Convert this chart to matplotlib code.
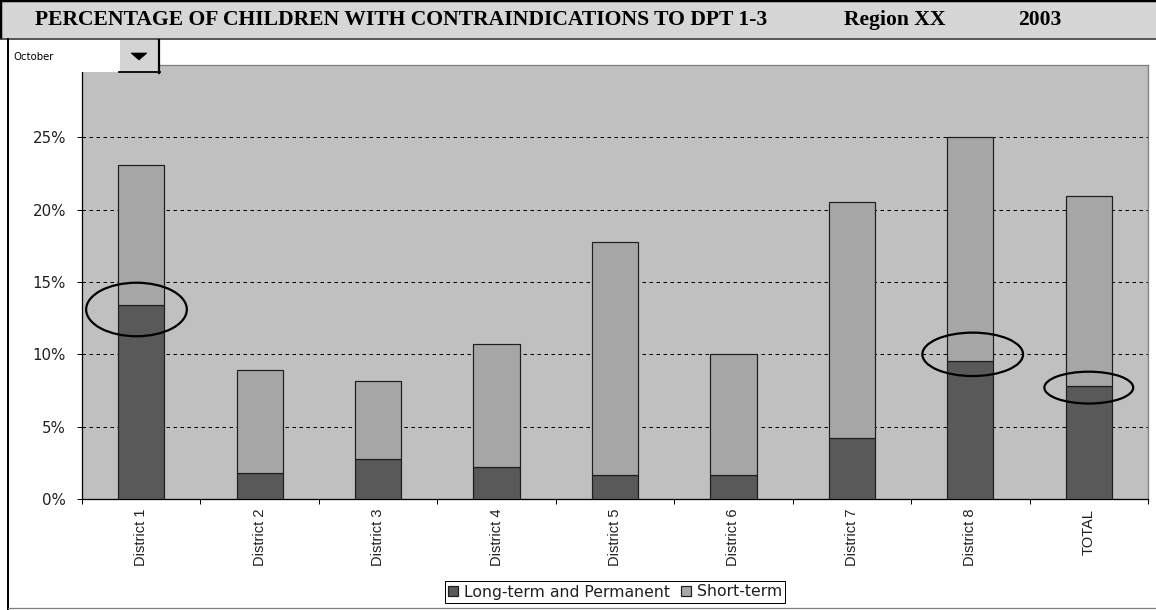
import matplotlib
matplotlib.use("Agg")
import matplotlib.pyplot as plt
from matplotlib.patches import Rectangle, Ellipse, Polygon
from matplotlib.lines import Line2D
from matplotlib.ticker import FixedLocator, PercentFormatter
import numpy as np

# ---- data (percent of children) ----
categories = ["District 1", "District 2", "District 3", "District 4", "District 5",
              "District 6", "District 7", "District 8", "TOTAL"]
long_term = [13.4, 1.8, 2.75, 2.2, 1.65, 1.65, 4.2, 9.55, 7.8]
short_term = [9.7, 7.1, 5.4, 8.5, 16.1, 8.35, 16.35, 15.45, 13.15]
series_names = ["Long-term and Permanent", "Short-term"]
y_ticks = [0, 5, 10, 15, 20, 25]
y_max = 30

# categories circled on the chart
highlighted = ["District 1", "District 8", "TOTAL"]

title_text = "PERCENTAGE OF CHILDREN WITH CONTRAINDICATIONS TO DPT 1-3"
region_text = "Region XX"
year_text = "2003"
month_text = "October"

# ---- styling ----
W, H = 1156, 610
DARK = "#595959"
LIGHT = "#a6a6a6"
PLOT_BG = "#c0c0c0"
EDGE = "#1e1e1e"
PX = 0.72  # one pixel in points at 100 dpi

plt.rcParams["font.family"] = ["DejaVu Sans"]

fig = plt.figure(figsize=(W / 100, H / 100), dpi=100)
fig.patch.set_facecolor("white")

# plot area in pixel bounds
left, right, top, bottom = 82, 1148, 65, 499
ax = fig.add_axes([left / W, (H - bottom) / H, (right - left) / W, (bottom - top) / H])
ax.set_facecolor(PLOT_BG)

x = np.arange(len(categories))
bar_w = 0.39
ax.bar(x, long_term, width=bar_w, color=DARK, edgecolor=EDGE, linewidth=1.2 * PX,
       label=series_names[0], zorder=3)
ax.bar(x, short_term, width=bar_w, bottom=long_term, color=LIGHT, edgecolor=EDGE,
       linewidth=1.2 * PX, label=series_names[1], zorder=3)

ax.set_xlim(-0.5, len(categories) - 0.5)
ax.set_ylim(0, y_max)

# y axis
ax.yaxis.set_major_locator(FixedLocator(y_ticks))
ax.yaxis.set_major_formatter(PercentFormatter(100, decimals=0))
ax.tick_params(axis="y", which="major", direction="out", length=5 * PX, width=1 * PX,
               pad=8, labelsize=10.8, labelcolor="#202020")
ax.yaxis.grid(True, linestyle=(0, (3.5, 3.5)), color="black", linewidth=1 * PX)
ax.set_axisbelow(True)

# x axis: labels at centres, tick marks between categories
ax.set_xticks(x)
ax.set_xticklabels(categories, rotation=90, fontfamily="Liberation Sans",
                   fontsize=10.5, color="#202020")
ax.tick_params(axis="x", which="major", length=0, pad=7)
ax.xaxis.set_minor_locator(FixedLocator(np.arange(-0.5, len(categories), 1.0)))
ax.tick_params(axis="x", which="minor", direction="out", length=5 * PX, width=1 * PX)

for side in ("left", "bottom"):
    ax.spines[side].set_color("black")
    ax.spines[side].set_linewidth(1.3 * PX)
for side in ("top", "right"):
    ax.spines[side].set_color("#808080")
    ax.spines[side].set_linewidth(1.3 * PX)

# circles around the long-term share of selected categories
ellipse_style = {"District 1": (0.85, 3.7, -0.04, -0.3),
                 "District 8": (0.85, 3.0, 0.02, 0.45),
                 "TOTAL": (0.75, 2.2, 0.0, -0.1)}
for name in highlighted:
    i = categories.index(name)
    w, h, dx, dy = ellipse_style[name]
    ax.add_patch(Ellipse((i + dx, long_term[i] + dy), w, h, fill=False,
                         edgecolor="black", linewidth=1.6, zorder=5))

# legend under the plot
leg = ax.legend(loc="center", bbox_to_anchor=(615 / W, 1 - 592 / H),
                bbox_transform=fig.transFigure, ncol=2, fontsize=11.3,
                frameon=True, fancybox=False, framealpha=1, edgecolor="black",
                handlelength=0.65, handleheight=0.65, handletextpad=0.35,
                columnspacing=0.7, borderpad=0.22, borderaxespad=0)
leg.get_frame().set_linewidth(1 * PX)
for t in leg.get_texts():
    t.set_color("#202020")

# ---- page decorations in pixel coordinates ----
deco = fig.add_axes([0, 0, 1, 1], zorder=10)
deco.set_xlim(0, W)
deco.set_ylim(H, 0)
deco.axis("off")
deco.patch.set_alpha(0)

# title bar
deco.add_patch(Rectangle((0, 0), W, 38, facecolor="#d6d6d6", edgecolor="none"))
deco.add_line(Line2D([0, W], [1.2, 1.2], color="black", linewidth=2.5 * PX))
deco.add_line(Line2D([1.2, 1.2], [0, 38], color="black", linewidth=2.5 * PX))
deco.add_line(Line2D([0, W], [38.5, 38.5], color="#303030", linewidth=1.6 * PX))
serif = dict(fontfamily="Liberation Serif", fontweight="bold", fontsize=15.6,
             va="center", ha="left", color="black")
deco.text(35, 20, title_text, **serif)
deco.text(844, 20, region_text, **serif)
deco.text(1018, 20, year_text, **serif)

# frame around the chart sheet
deco.add_line(Line2D([8, 8], [39, 609], color="black", linewidth=2 * PX))
deco.add_line(Line2D([8, W], [608, 608], color="#808080", linewidth=1.3 * PX))

# month selector
deco.add_patch(Rectangle((9, 40), 110, 32, facecolor="white", edgecolor="none"))
deco.text(13, 56.5, month_text, fontsize=7.3, va="center", ha="left", color="black")
deco.add_patch(Rectangle((119, 40), 39, 31, facecolor="#d4d4d4", edgecolor="none"))
deco.add_line(Line2D([119, 119], [40, 71], color="white", linewidth=1 * PX))
deco.add_line(Line2D([159, 159], [40, 72.5], color="black", linewidth=2.2 * PX))
deco.add_line(Line2D([119, 160], [71.5, 71.5], color="black", linewidth=1.8 * PX))
deco.add_patch(Polygon([[131, 53], [147, 53], [139, 60]], closed=True,
                       facecolor="black", edgecolor="black", linewidth=0.5))

fig.savefig("out.png", dpi=100)
